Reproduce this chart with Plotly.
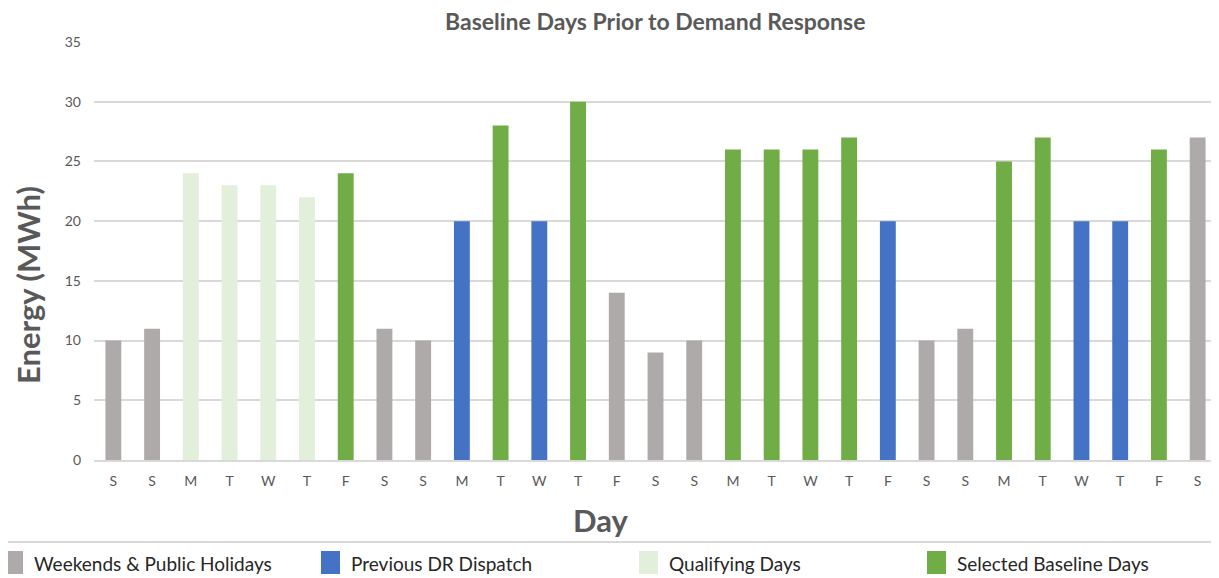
import plotly.graph_objects as go

days = ["S","S","M","T","W","T","F","S","S","M","T","W","T","F","S","S","M","T","W","T","F","S","S","M","T","W","T","F","S"]
energy = [10,11,24,23,23,22,24,11,10,20,28,20,30,14,9,10,26,26,26,27,20,10,11,25,27,20,20,26,27]
group = ["W","W","Q","Q","Q","Q","B","W","W","D","B","D","B","W","W","W","B","B","B","B","D","W","W","B","B","D","D","B","W"]

group_names = {"W": "Weekends & Public Holidays", "D": "Previous DR Dispatch",
               "Q": "Qualifying Days", "B": "Selected Baseline Days"}
group_order = ["W", "D", "Q", "B"]
group_colors = {"W": "#AEAAAA", "D": "#4472C4", "Q": "#E2EFDA", "B": "#70AD47"}

FONT = "Lato"
TXT = "#595959"

fig = go.Figure()
idx = list(range(len(days)))
for g in group_order:
    xs = [i for i in idx if group[i] == g]
    ys = [energy[i] for i in idx if group[i] == g]
    fig.add_trace(go.Bar(x=xs, y=ys, name=group_names[g], marker_color=group_colors[g],
                         marker_line_width=0, width=0.41, showlegend=False))

# the page body adds an 8px offset; figure is sized to fill the rest of the window
OFF = 8
W, H = 1219 - OFF, 578 - OFF
ml, mr, mt, mb = 94 - OFF, 2, 42 - OFF, 118
pw, ph = W - ml - mr, H - mt - mb

def px_x(x):
    return (x - OFF - ml) / pw

def px_y(y):
    return (H - mb - (y - OFF)) / ph

shapes = [dict(type="line", xref="paper", yref="paper", x0=px_x(OFF), x1=px_x(1219),
               y0=px_y(542), y1=px_y(542), line=dict(color="#D9D9D9", width=2))]
annotations = []
leg_x = [4, 321, 639, 927]
for g, lx in zip(group_order, leg_x):
    shapes.append(dict(type="rect", xref="paper", yref="paper",
                       x0=px_x(max(lx, OFF)), x1=px_x(lx + 19), y0=px_y(574), y1=px_y(551),
                       fillcolor=group_colors[g], line=dict(width=0)))
    annotations.append(dict(text=group_names[g], xref="paper", yref="paper",
                            x=px_x(lx + 28), y=px_y(563), xanchor="left", yanchor="middle",
                            showarrow=False, font=dict(family=FONT, size=19, color="#262626")))

# chart title and axis titles (placed as in the reference, off-centre)
annotations.append(dict(text="<b>Baseline Days Prior to Demand Response</b>", xref="paper", yref="paper",
                        x=px_x(655), y=px_y(21), xanchor="center", yanchor="middle", showarrow=False,
                        font=dict(family=FONT, size=23, color=TXT)))
annotations.append(dict(text="<b>Day</b>", xref="paper", yref="paper", x=px_x(600), y=px_y(520),
                        xanchor="center", yanchor="middle", showarrow=False,
                        font=dict(family=FONT, size=31, color=TXT)))
annotations.append(dict(text="<b>Energy (MWh)</b>", xref="paper", yref="paper", x=px_x(28), y=px_y(285),
                        xanchor="center", yanchor="middle", textangle=-90, showarrow=False,
                        font=dict(family=FONT, size=31, color=TXT)))

fig.update_layout(
    width=W, height=H,
    margin=dict(l=ml, r=mr, t=mt, b=mb),
    paper_bgcolor="white", plot_bgcolor="white",
    barmode="overlay",
    xaxis=dict(tickmode="array", tickvals=idx, ticktext=days, range=[-0.5, len(days) - 0.5],
               showgrid=False, showline=True, linecolor="#D9D9D9", linewidth=1.5,
               ticks="", ticklabelstandoff=7, tickfont=dict(family=FONT, size=14, color=TXT)),
    yaxis=dict(range=[0, 35], dtick=5, showgrid=True, gridcolor="#D9D9D9", gridwidth=1.5,
               zeroline=False, showline=False, ticks="", ticklabelstandoff=12,
               tickfont=dict(family=FONT, size=14, color=TXT)),
    shapes=shapes, annotations=annotations,
)

fig.write_html("out.html")
